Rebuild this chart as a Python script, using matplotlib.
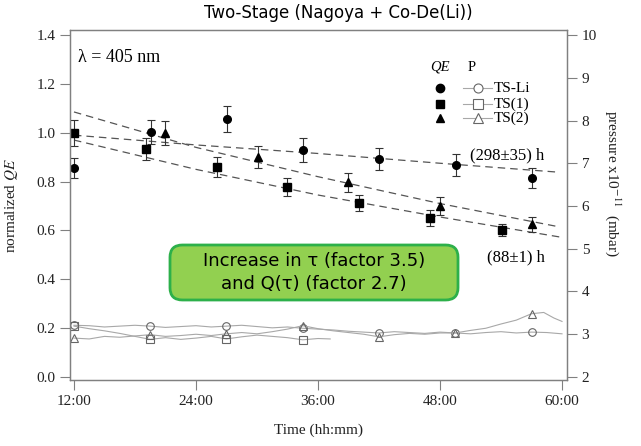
import matplotlib
matplotlib.use('Agg')
import matplotlib.pyplot as plt
from matplotlib.patches import FancyBboxPatch

plt.rcParams['font.family'] = ['Liberation Serif', 'DejaVu Serif']
plt.rcParams['mathtext.fontset'] = 'stix'

# QE measurements (time in hours, normalized QE, error)
t_li = [12.0, 19.6, 27.1, 34.5, 42.0, 49.6, 57.0]
qe_li = [0.855, 1.003, 1.056, 0.929, 0.892, 0.868, 0.815]
err_li = [0.041, 0.048, 0.053, 0.048, 0.044, 0.044, 0.041]

t_ts1 = [12.0, 19.1, 26.1, 33.0, 40.0, 47.0, 54.1]
qe_ts1 = [0.999, 0.933, 0.860, 0.778, 0.712, 0.651, 0.602]
err_ts1 = [0.055, 0.046, 0.042, 0.037, 0.034, 0.033, 0.026]

t_ts2 = [21.0, 30.1, 39.0, 48.0, 57.0]
qe_ts2 = [1.000, 0.900, 0.798, 0.700, 0.626]
err_ts2 = [0.05, 0.045, 0.039, 0.037, 0.031]

# exponential fit curves
fit_t = [12, 24, 36, 48, 59.8]
fit_li = [0.99, 0.95, 0.915, 0.875, 0.838]
fit_ts1 = [0.97, 0.85, 0.745, 0.655, 0.573]
fit_ts2 = [1.085, 0.94, 0.82, 0.71, 0.614]

# pressure (x1e-11 mbar)
p_t_li = [12, 13.5, 15, 16.5, 18, 19.5, 21, 22.5, 24, 25.5, 27, 28.5, 30, 31.5, 33,
          34.5, 36, 37.5, 39, 40.5, 42, 43.5, 45, 46.5, 48, 49.5, 51, 52.5, 54, 55.5,
          57, 58.5, 60]
p_li = [3.21, 3.20, 3.17, 3.19, 3.21, 3.19, 3.16, 3.18, 3.20, 3.17, 3.19, 3.21, 3.18,
        3.15, 3.17, 3.14, 3.12, 3.10, 3.07, 3.05, 3.03, 3.06, 3.04, 3.02, 3.05, 3.03,
        3.01, 3.04, 3.06, 3.03, 3.05, 3.04, 3.01]

p_t_ts1 = [12, 13.5, 15, 16.5, 18, 19.5, 21, 22.5, 24, 25.5, 27, 28.5, 30, 31.5, 33,
           34.5, 36, 37.2]
p_ts1 = [3.19, 3.13, 3.08, 3.02, 2.95, 2.88, 2.92, 2.88, 2.91, 2.95, 2.89, 2.94, 2.98,
         2.95, 2.92, 2.87, 2.90, 2.89]

p_t_ts2 = [12, 13.5, 15, 16.5, 18, 19.5, 21, 22.5, 24, 25.5, 27, 28.5, 30, 31.5, 33,
           34.5, 36, 37.5, 39, 40.5, 42, 43.5, 45, 46.5, 48, 49.5, 51, 52.5, 54, 55.5,
           57, 58.2, 59.2, 60]
p_ts2 = [2.91, 2.89, 2.95, 2.93, 2.96, 2.99, 2.95, 2.97, 3.00, 2.97, 3.01, 3.04, 3.01,
         3.06, 3.12, 3.20, 3.13, 3.08, 3.04, 3.00, 2.94, 2.99, 3.02, 3.00, 3.03, 3.03,
         3.09, 3.14, 3.24, 3.33, 3.48, 3.51, 3.38, 3.30]

xticks = [12, 24, 36, 48, 60]
xticklabels = ['12:00', '24:00', '36:00', '48:00', '60:00']

fig = plt.figure(figsize=(6.41, 4.46), dpi=100)
ax = fig.add_axes([70 / 641, 1 - 380 / 446, 497 / 641, 350 / 446])
ax.set_xlim(11.61, 60.49)
qe_lim = (-0.0123, 1.4205)
ax.set_ylim(*qe_lim)

ax2 = ax.twinx()
ax2.set_ylim(2 + qe_lim[0] * 8 / 1.4, 2 + qe_lim[1] * 8 / 1.4)

# fits
for f in (fit_li, fit_ts1, fit_ts2):
    ax.plot(fit_t, f, color='#555555', lw=0.9, dashes=(6, 4))

ebkw = dict(color='black', ecolor='#333333', elinewidth=0.8, capsize=2.8,
            capthick=0.8, linestyle='none')
ax.errorbar(t_li, qe_li, yerr=err_li, marker='o', ms=5.5, **ebkw)
ax.errorbar(t_ts1, qe_ts1, yerr=err_ts1, marker='s', ms=5.5, **ebkw)
ax.errorbar(t_ts2, qe_ts2, yerr=err_ts2, marker='^', ms=6, **ebkw)

# pressure traces
pkw = dict(color='#a8a8a8', lw=0.8, mfc='none', mec='#666666', mew=0.8,
           ms=5.5, markevery=5)
ax2.plot(p_t_li, p_li, marker='o', **pkw)
ax2.plot(p_t_ts1, p_ts1, marker='s', **pkw)
ax2.plot(p_t_ts2, p_ts2, marker='^', **pkw)

# axes styling
for a in (ax, ax2):
    for s in a.spines.values():
        s.set_color('#808080')
        s.set_linewidth(0.9)
    a.tick_params(direction='out', length=7, width=0.8, color='#808080',
                  labelsize=11, labelcolor='#222222')
ax.set_xticks(xticks)
ax.set_xticklabels(xticklabels)
ax.set_yticks([0.0, 0.2, 0.4, 0.6, 0.8, 1.0, 1.2, 1.4])
ax.set_yticklabels(['%.1f' % v for v in [0.0, 0.2, 0.4, 0.6, 0.8, 1.0, 1.2, 1.4]])
ax2.set_yticks(range(2, 11))

# legend by hand
tr = ax.transAxes
ax.text(0.744, 0.894, 'QE', style='italic', fontsize=10.5, ha='center', va='center', transform=tr)
ax.text(0.809, 0.894, 'P', fontsize=10.5, ha='center', va='center', transform=tr)
names = ['TS-Li', 'TS(1)', 'TS(2)']
marks = ['o', 's', '^']
ys = [0.834, 0.789, 0.749]
for nm, mk, yy in zip(names, marks, ys):
    ax.plot([0.744], [yy], marker=mk, color='black', ms=6, transform=tr)
    ax.plot([0.791, 0.849], [yy, yy], color='#a8a8a8', lw=0.8, transform=tr)
    ax.plot([0.82], [yy], marker=mk, mfc='white', mec='#666666', mew=0.8, ms=6.5,
            transform=tr)
    ax.text(0.853, yy, nm, fontsize=11, ha='left', va='center', transform=tr)

ax.text(0.016, 0.92, 'λ = 405 nm', fontsize=13, ha='left', va='center', transform=tr)
ax.text(0.805, 0.643, '(298±35) h', fontsize=12, ha='left', va='center', transform=tr)
ax.text(0.839, 0.351, '(88±1) h', fontsize=12, ha='left', va='center', transform=tr)

box = FancyBboxPatch((0.2012, 0.2286), 0.5795, 0.1571,
                     boxstyle='round,pad=0,rounding_size=0.025', mutation_aspect=1.4,
                     transform=tr, fc='#92D050', ec='#2DB04A', lw=2, zorder=3)
ax.add_patch(box)
ax.text(0.491, 0.307, 'Increase in τ (factor 3.5)\nand Q(τ) (factor 2.7)',
        family='DejaVu Sans', fontsize=13, ha='center', va='center',
        linespacing=1.3, transform=tr, zorder=4)

fig.text(338 / 641, 1 - 13 / 446, 'Two-Stage (Nagoya + Co-De(Li))',
         family='DejaVu Sans', fontsize=12, ha='center', va='center')
fig.text(12 / 641, 1 - 205 / 446, 'normalized $\\mathit{QE}$', rotation=90,
         fontsize=11, ha='center', va='center', color='#222222')
fig.text(613 / 641, 1 - 183 / 446, 'pressure x10$^{-11}$  (mbar)', rotation=270,
         fontsize=11, ha='center', va='center', color='#222222')
fig.text(318 / 641, 1 - 430 / 446, 'Time (hh:mm)', fontsize=11, ha='center',
         va='center', color='#222222')

fig.savefig('out.png', dpi=100)
